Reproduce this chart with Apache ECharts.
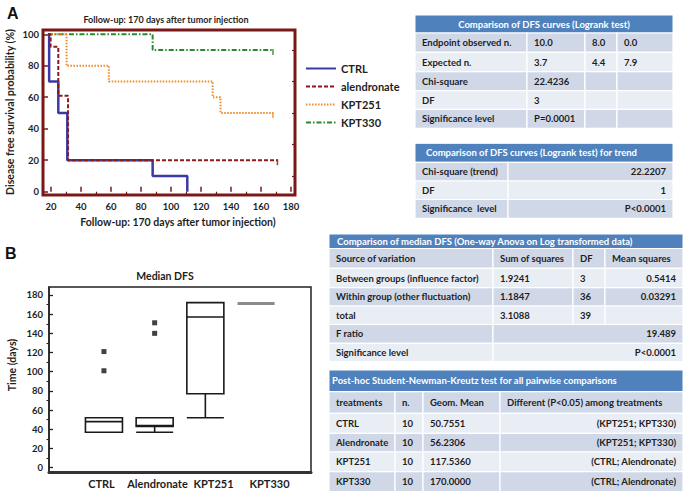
<!DOCTYPE html>
<html><head><meta charset="utf-8">
<script src="https://cdn.jsdelivr.net/npm/echarts@6/dist/echarts.min.js"></script>
<style>html,body{margin:0;padding:0;background:#fff}#c{width:685px;height:495px}</style>
</head><body><div id="c"></div>
<script>
// ---------- Panel A: Kaplan-Meier disease free survival (days, %) ----------
const kmGroups = ['CTRL', 'alendronate', 'KPT251', 'KPT330'];
const kmCTRL = [[18, 100], [18.8, 70], [24.9, 50], [30.9, 20], [87.8, 10], [110.9, 0]];
const kmAlendronate = [[18, 100], [19.8, 92], [24.9, 61], [31.4, 20], [171, 20]];
const kmKPT251 = [[18, 100], [30.4, 80], [58.6, 70], [127.8, 60], [133, 50], [168, 50]];
const kmKPT330 = [[18, 100], [87.8, 90], [168, 90]];
const kmXTicks = [20, 40, 60, 80, 100, 120, 140, 160, 180];
const kmXMinorTicks = [30, 50, 70, 90, 110, 130, 150, 170];
const kmYTicks = [0, 20, 40, 60, 80, 100];
const kmYMinorTicks = [10, 30, 50, 70, 90];

// ---------- Panel B: median DFS box plot (days) ----------
const boxCategories = ['CTRL', 'Alendronate', 'KPT251', 'KPT330'];
// [min, Q1, median, Q3, max]
const boxStats = [
  [37, 37, 48, 52, 52],
  [37, 43, 44, 52, 52],
  [52, 77, 157, 172, 172],
  [171, 171, 171, 171, 171]
];
const boxOutliers = [[0, 101], [0, 121], [1, 140], [1, 151]];
const boxYTicks = [0, 20, 40, 60, 80, 100, 120, 140, 160, 180];
const boxYMinorTicks = [10, 30, 50, 70, 90, 110, 130, 150, 170];

// ---------- Tables ----------
const logrankTitle = 'Comparison of DFS curves (Logrank test)';
const logrankRows = [
  ['Endpoint observed n.', '10.0', '8.0', '0.0'],
  ['Expected n.', '3.7', '4.4', '7.9'],
  ['Chi-square', '22.4236', '', ''],
  ['DF', '3', '', ''],
  ['Significance level', 'P=0.0001', '', '']
];
const trendTitle = 'Comparison of DFS curves (Logrank test) for trend';
const trendRows = [
  ['Chi-square (trend)', '22.2207'],
  ['DF', '1'],
  ['Significance  level', 'P<0.0001']
];
const anovaTitle = 'Comparison of median DFS (One-way Anova on Log transformed data)';
const anovaRows = [
  ['Source of variation', 'Sum of squares', 'DF', 'Mean squares'],
  ['Between groups (influence factor)', '1.9241', '3', '0.5414'],
  ['Within group (other fluctuation)', '1.1847', '36', '0.03291'],
  ['total', '3.1088', '39', ''],
  ['F ratio', '19.489'],
  ['Significance level', 'P<0.0001']
];
const snkTitle = 'Post-hoc Student-Newman-Kreutz test for all pairwise comparisons';
const snkRows = [
  ['treatments', 'n.', 'Geom. Mean', 'Different (P<0.05) among treatments'],
  ['CTRL', '10', '50.7551', '(KPT251; KPT330)'],
  ['Alendronate', '10', '56.2306', '(KPT251; KPT330)'],
  ['KPT251', '10', '117.5360', '(CTRL; Alendronate)'],
  ['KPT330', '10', '170.0000', '(CTRL; Alendronate)']
];

// ---------- layout / style ----------
const FONT = 'Lato, "Open Sans", sans-serif';
const HEADER = '#4f81bd', DARK = '#d0d8e8', LIGHT = '#e9edf4', INK = '#1e1e1e';
const tableLayouts = {
  logrank: { xs: [415, 527, 585, 617, 673], ys: [15, 33, 52.3, 71.7, 90.7, 109.3, 128.3], titleAlign: 'center', aligns: ['left', 'left', 'left', 'left'], headRow: false },
  trend: { xs: [415, 508, 673], ys: [143.3, 162.3, 181, 199.5, 218.3], titleAlign: 'left', titleX: 426, aligns: ['left', 'right'], headRow: false },
  anova: { xs: [329, 493, 573, 605, 683], ys: [234, 248.5, 268.3, 287.7, 306, 324.5, 343.3, 361.7], titleAlign: 'left', titleX: 337, aligns: ['left', 'left', 'left', 'right'], headRow: true },
  snk: { xs: [329, 395, 423, 500, 683], ys: [370, 391.7, 413.3, 433.3, 452, 471.7, 491.7], titleAlign: 'left', titleX: 332, aligns: ['left', 'left', 'left', 'right'], headRow: true }
};

function tableGraphics(L, title, rows) {
  const els = [];
  const n = L.xs.length - 1, x0 = L.xs[0], x1 = L.xs[n];
  els.push({ type: 'rect', shape: { x: x0, y: L.ys[0], width: x1 - x0, height: L.ys[1] - L.ys[0] },
    style: { fill: HEADER, stroke: '#ffffff', lineWidth: 1 } });
  els.push({ type: 'text', x: L.titleAlign === 'center' ? (x0 + x1) / 2 : L.titleX, y: (L.ys[0] + L.ys[1]) / 2,
    style: { text: title, fill: '#ffffff', font: 'bold 9.5px ' + FONT, textAlign: L.titleAlign, textVerticalAlign: 'middle' } });
  rows.forEach((row, r) => {
    const top = L.ys[r + 1], bot = L.ys[r + 2];
    const fill = r % 2 === 0 ? DARK : LIGHT;
    row.forEach((cell, c) => {
      const cx0 = L.xs[c];
      const spans = c === row.length - 1 && row.length < n;
      const cx1 = spans ? x1 : L.xs[c + 1];
      els.push({ type: 'rect', shape: { x: cx0, y: top, width: cx1 - cx0, height: bot - top },
        style: { fill: fill, stroke: '#ffffff', lineWidth: 1.2 } });
      let align = spans ? 'right' : L.aligns[c];
      if (L.headRow && r === 0) align = 'left';
      if (cell !== '') {
        els.push({ type: 'text', x: align === 'right' ? cx1 - 7 : cx0 + 7, y: (top + bot) / 2,
          style: { text: cell, fill: INK, font: 'bold 9.5px ' + FONT, textAlign: align, textVerticalAlign: 'middle' } });
      }
    });
  });
  return els;
}

const KMC = '#7a1818';
const boldLbl = { fontWeight: 'bold', fontSize: 9.5, color: INK, fontFamily: FONT };
const kmSeriesData = [kmCTRL, kmAlendronate, kmKPT251, kmKPT330];
const kmColors = ['#3a3aa6', '#8b1a1a', '#f08a24', '#2a8a2a'];
const kmLine = [
  { width: 2.5, type: 'solid' },
  { width: 2, type: [4, 2] },
  { width: 2, type: [1.5, 1.5] },
  { width: 2, type: [5, 2, 1.5, 2] }
];
const kmSeries = kmGroups.map((g, i) => ({
  name: g, type: 'line', step: 'end', xAxisIndex: 0, yAxisIndex: 0, symbol: 'none', showSymbol: false,
  data: kmSeriesData[i], lineStyle: Object.assign({ color: kmColors[i] }, kmLine[i]), itemStyle: { color: kmColors[i] },
  z: [5, 6, 4, 3][i]
}));
// censor tick at the end of each curve that stays above zero
const censorSeries = kmGroups.map((g, i) => {
  const last = kmSeriesData[i][kmSeriesData[i].length - 1];
  return { name: g + ' censored', type: 'scatter', xAxisIndex: 0, yAxisIndex: 0, symbol: 'rect',
    symbolSize: [1.6, 6], symbolOffset: [0, 2], itemStyle: { color: kmColors[i] }, z: 7,
    data: last[1] > 0 ? [last] : [] };
});

const option = {
  animation: false,
  backgroundColor: '#ffffff',
  legend: {
    data: kmGroups, orient: 'vertical', left: 300, top: 58, itemWidth: 30, itemHeight: 12, itemGap: 7,
    itemStyle: { color: 'rgba(0,0,0,0)', borderWidth: 0, opacity: 0 },
    textStyle: { fontWeight: 'bold', fontSize: 11, color: INK, fontFamily: FONT }
  },
  grid: [
    { left: 43, top: 30, width: 252, height: 165, show: true, borderColor: KMC, borderWidth: 3, backgroundColor: '#fff' },
    { left: 49, top: 287, width: 262, height: 185, show: true, borderColor: '#222', borderWidth: 1.5 },
    { left: 78.6, top: 287, width: 202.8, height: 185 },
    { left: 73.5, top: 287, width: 224, height: 185 }
  ],
  xAxis: [
    { type: 'value', gridIndex: 0, min: 14.7, max: 182.7, axisLine: { show: false }, splitLine: { show: false },
      axisTick: { inside: true, length: 5, customValues: kmXTicks, lineStyle: { color: KMC, width: 1.5 } },
      axisLabel: Object.assign({ customValues: kmXTicks, margin: 6 }, boldLbl) },
    { type: 'value', gridIndex: 0, min: 14.7, max: 182.7, axisLine: { show: false }, splitLine: { show: false },
      axisTick: { inside: true, length: 3, customValues: kmXMinorTicks, lineStyle: { color: KMC, width: 1.2 } },
      axisLabel: { show: false } },
    { type: 'value', gridIndex: 1, min: 0, max: 1, splitLine: { show: false },
      axisLine: { show: true, onZero: false, lineStyle: { color: '#333', width: 3 } }, axisTick: { show: false }, axisLabel: { show: false } },
    { type: 'category', gridIndex: 2, data: boxCategories, show: false },
    { type: 'category', gridIndex: 3, data: boxCategories, axisLine: { show: false }, axisTick: { show: false },
      axisLabel: { interval: 0, fontWeight: 'bold', fontSize: 11, color: INK, fontFamily: FONT, margin: 6 } }
  ],
  yAxis: [
    { type: 'value', gridIndex: 0, min: -2.1, max: 102.7, axisLine: { show: false }, splitLine: { show: false },
      axisTick: { inside: true, length: 5, customValues: kmYTicks, lineStyle: { color: KMC, width: 1.5 } },
      axisLabel: Object.assign({ customValues: kmYTicks, margin: 4 }, boldLbl) },
    { type: 'value', gridIndex: 0, min: -2.1, max: 102.7, axisLine: { show: false }, splitLine: { show: false },
      axisTick: { inside: true, length: 3, customValues: kmYMinorTicks, lineStyle: { color: KMC, width: 1.2 } },
      axisLabel: { show: false } },
    { type: 'value', gridIndex: 1, min: -4.5, max: 188.3, splitLine: { show: false },
      axisLine: { show: true, onZero: false, lineStyle: { color: '#222', width: 1.5 } },
      axisTick: { inside: true, length: 4, customValues: boxYTicks, lineStyle: { color: '#222', width: 1.3 } },
      axisLabel: Object.assign({ customValues: boxYTicks, margin: 6 }, boldLbl) },
    { type: 'value', gridIndex: 1, min: -4.5, max: 188.3, splitLine: { show: false }, axisLine: { show: false },
      axisTick: { inside: true, length: 2.5, customValues: boxYMinorTicks, lineStyle: { color: '#222', width: 1.1 } },
      axisLabel: { show: false } },
    { type: 'value', gridIndex: 2, min: -4.5, max: 188.3, show: false },
    { type: 'value', gridIndex: 3, min: -4.5, max: 188.3, show: false }
  ],
  series: kmSeries.concat(censorSeries, [
    { name: 'Median DFS', type: 'boxplot', xAxisIndex: 3, yAxisIndex: 4, boxWidth: ['73%', '73%'],
      data: boxStats.map((v, i) => i === 3 ? { value: v, itemStyle: { borderColor: '#8a8a8a', borderWidth: 3 } } : v),
      itemStyle: { color: '#ffffff', borderColor: '#1a1a1a', borderWidth: 1.6 } },
    { name: 'outliers', type: 'scatter', xAxisIndex: 3, yAxisIndex: 4, symbol: 'rect', symbolSize: 5,
      data: boxOutliers, itemStyle: { color: '#111' } }
  ]),
  graphic: [].concat(
    [
      { type: 'text', x: 7, y: 13, style: { text: 'A', font: 'bold 16px "Liberation Sans", Arial, sans-serif', fill: '#111', textVerticalAlign: 'middle' } },
      { type: 'text', x: 5, y: 253, style: { text: 'B', font: 'bold 16px "Liberation Sans", Arial, sans-serif', fill: '#111', textVerticalAlign: 'middle' } },
      { type: 'text', x: 166, y: 19, style: { text: 'Follow-up: 170 days after tumor injection', font: 'bold 9px ' + FONT, fill: INK, textAlign: 'center', textVerticalAlign: 'middle' } },
      { type: 'text', x: 178, y: 222, style: { text: 'Follow-up: 170 days after tumor injection)', font: 'bold 10.5px ' + FONT, fill: INK, textAlign: 'center', textVerticalAlign: 'middle' } },
      { type: 'text', x: 10, y: 112, rotation: Math.PI / 2, style: { text: 'Disease free survival probability (%)', font: 'bold 10.5px ' + FONT, fill: INK, textAlign: 'center', textVerticalAlign: 'middle' } },
      { type: 'text', x: 165, y: 276, style: { text: 'Median DFS', font: 'bold 10.5px ' + FONT, fill: INK, textAlign: 'center', textVerticalAlign: 'middle' } },
      { type: 'text', x: 12, y: 365, rotation: Math.PI / 2, style: { text: 'Time (days)', font: 'bold 10.5px ' + FONT, fill: INK, textAlign: 'center', textVerticalAlign: 'middle' } }
    ],
    tableGraphics(tableLayouts.logrank, logrankTitle, logrankRows),
    tableGraphics(tableLayouts.trend, trendTitle, trendRows),
    tableGraphics(tableLayouts.anova, anovaTitle, anovaRows),
    tableGraphics(tableLayouts.snk, snkTitle, snkRows)
  )
};

const chart = echarts.init(document.getElementById('c'), null, { renderer: 'svg' });
chart.setOption(option);
</script></body></html>
